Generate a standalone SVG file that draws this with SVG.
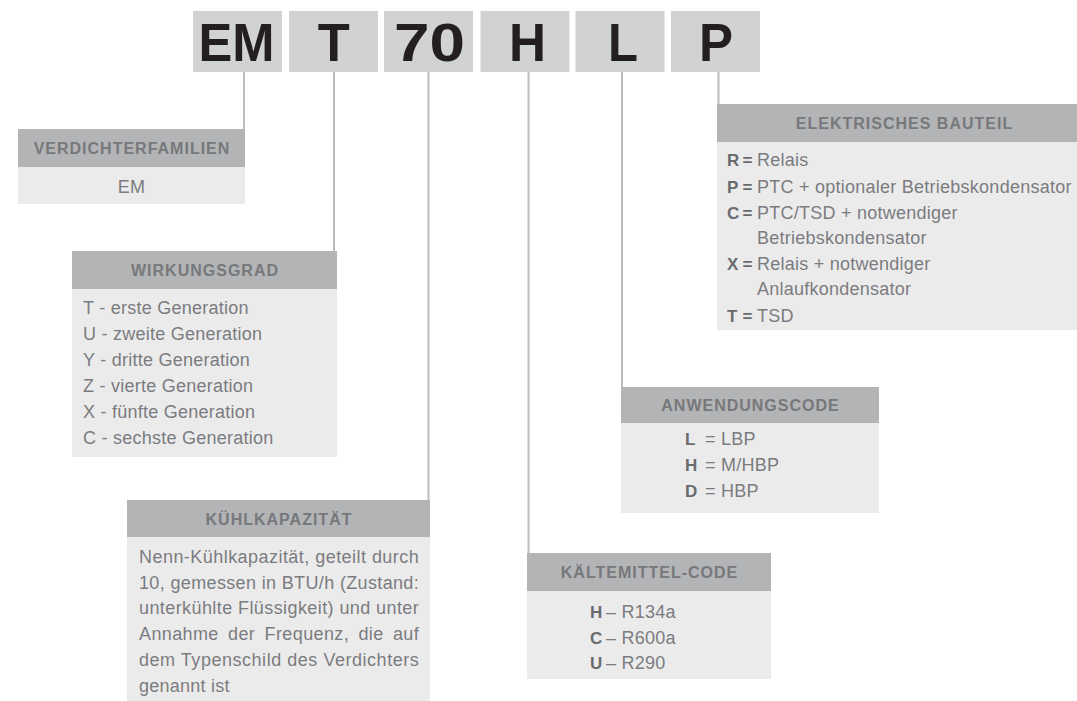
<svg xmlns="http://www.w3.org/2000/svg" width="1077" height="701" viewBox="0 0 1077 701">
  <style>
    .code { fill: #d1d2d4; }
    .letter { font-family: "Liberation Sans", Arial, sans-serif; font-weight: bold; font-size: 53px; fill: #231f20; }
    .hdr { fill: #b3b4b6; }
    .body { fill: #ebebec; }
    .htxt { font-family: "Liberation Sans", Arial, sans-serif; font-weight: bold; font-size: 16px; letter-spacing: 1px; fill: #77787b; text-anchor: middle; }
    .txt { font-family: "Liberation Sans", Arial, sans-serif; font-size: 18px; letter-spacing: 0.25px; fill: #7b7c7f; }
    .key { font-weight: bold; font-size: 17px; letter-spacing: 0; fill: #6a6b6e; }
    .conn { stroke: #bcbdbf; stroke-width: 2; fill: none; }
  </style>
  <rect width="1077" height="701" fill="#ffffff"/>

  <g id="connectors">
    <line class="conn" x1="244" y1="72" x2="244" y2="129"/>
    <line class="conn" x1="334" y1="72" x2="334" y2="251"/>
    <line class="conn" x1="428.5" y1="72" x2="428.5" y2="500"/>
    <line class="conn" x1="528.5" y1="72" x2="528.5" y2="553"/>
    <line class="conn" x1="622" y1="72" x2="622" y2="387"/>
    <line class="conn" x1="718.5" y1="72" x2="718.5" y2="104"/>
  </g>

  <g id="code-EM">
    <rect class="code" x="193" y="11" width="89" height="61"/>
    <text class="letter" x="198.5" y="61" textLength="76" lengthAdjust="spacingAndGlyphs">EM</text>
  </g>
  <g id="code-T">
    <rect class="code" x="289" y="11" width="89" height="61"/>
    <text class="letter" x="317.8" y="61" textLength="32" lengthAdjust="spacingAndGlyphs">T</text>
  </g>
  <g id="code-70">
    <rect class="code" x="384" y="11" width="89" height="61"/>
    <text class="letter" x="394" y="61" textLength="71" lengthAdjust="spacingAndGlyphs">70</text>
  </g>
  <g id="code-H">
    <rect class="code" x="480.5" y="11" width="89" height="61"/>
    <text class="letter" x="509" y="61" textLength="37" lengthAdjust="spacingAndGlyphs">H</text>
  </g>
  <g id="code-L">
    <rect class="code" x="575.5" y="11" width="89" height="61"/>
    <text class="letter" x="608" y="61" textLength="30" lengthAdjust="spacingAndGlyphs">L</text>
  </g>
  <g id="code-P">
    <rect class="code" x="671" y="11" width="89" height="61"/>
    <text class="letter" x="699" y="61" textLength="34" lengthAdjust="spacingAndGlyphs">P</text>
  </g>

  <g id="verdichterfamilien">
    <rect class="hdr" x="18" y="129" width="227" height="38"/>
    <rect class="body" x="18" y="167" width="227" height="37"/>
    <text class="htxt" x="132" y="154">VERDICHTERFAMILIEN</text>
    <text class="txt" x="131.5" y="193" text-anchor="middle">EM</text>
  </g>

  <g id="wirkungsgrad">
    <rect class="hdr" x="72" y="251" width="265" height="38"/>
    <rect class="body" x="72" y="289" width="265" height="168"/>
    <text class="htxt" x="205" y="276">WIRKUNGSGRAD</text>
    <text class="txt" x="83" y="314">T - erste Generation</text>
    <text class="txt" x="83" y="340">U - zweite Generation</text>
    <text class="txt" x="83" y="366">Y - dritte Generation</text>
    <text class="txt" x="83" y="392">Z - vierte Generation</text>
    <text class="txt" x="83" y="418">X - fünfte Generation</text>
    <text class="txt" x="83" y="444">C - sechste Generation</text>
  </g>

  <g id="kuehlkapazitaet">
    <rect class="hdr" x="127" y="500" width="303" height="37"/>
    <rect class="body" x="127" y="537" width="303" height="164"/>
    <text class="htxt" x="279" y="525">KÜHLKAPAZITÄT</text>
    <text class="txt" x="139" y="563" textLength="280" lengthAdjust="spacing">Nenn-Kühlkapazität, geteilt durch</text>
    <text class="txt" x="139" y="588.5" textLength="280" lengthAdjust="spacing">10, gemessen in BTU/h (Zustand:</text>
    <text class="txt" x="139" y="614" textLength="280" lengthAdjust="spacing">unterkühlte Flüssigkeit) und unter</text>
    <text class="txt" x="139" y="640" word-spacing="4" textLength="280" lengthAdjust="spacing">Annahme der Frequenz, die auf</text>
    <text class="txt" x="139" y="666" textLength="280" lengthAdjust="spacing">dem Typenschild des Verdichters</text>
    <text class="txt" x="139" y="692">genannt ist</text>
  </g>

  <g id="kaeltemittel-code">
    <rect class="hdr" x="527" y="553" width="244" height="38"/>
    <rect class="body" x="527" y="591" width="244" height="88"/>
    <text class="htxt" x="649.5" y="578">KÄLTEMITTEL-CODE</text>
    <text class="txt" y="618"><tspan class="key" x="590">H</tspan><tspan x="606">– R134a</tspan></text>
    <text class="txt" y="643.5"><tspan class="key" x="590">C</tspan><tspan x="606">– R600a</tspan></text>
    <text class="txt" y="669"><tspan class="key" x="590">U</tspan><tspan x="606">– R290</tspan></text>
  </g>

  <g id="anwendungscode">
    <rect class="hdr" x="621" y="387" width="258" height="36"/>
    <rect class="body" x="621" y="423" width="258" height="90"/>
    <text class="htxt" x="750.5" y="411">ANWENDUNGSCODE</text>
    <text class="txt" y="445"><tspan class="key" x="685">L</tspan><tspan x="705">= LBP</tspan></text>
    <text class="txt" y="471"><tspan class="key" x="685">H</tspan><tspan x="705">= M/HBP</tspan></text>
    <text class="txt" y="497"><tspan class="key" x="685">D</tspan><tspan x="705">= HBP</tspan></text>
  </g>

  <g id="elektrisches-bauteil">
    <rect class="hdr" x="717" y="104" width="374" height="38"/>
    <rect class="body" x="717" y="142" width="374" height="188"/>
    <text class="htxt" x="904.5" y="129">ELEKTRISCHES BAUTEIL</text>
    <text class="txt" y="166"><tspan class="key" x="727">R</tspan><tspan class="key" x="742.5">=</tspan><tspan x="757">Relais</tspan></text>
    <text class="txt" y="192.5"><tspan class="key" x="727">P</tspan><tspan class="key" x="742.5">=</tspan><tspan x="757">PTC + optionaler Betriebskondensator</tspan></text>
    <text class="txt" y="219"><tspan class="key" x="727">C</tspan><tspan class="key" x="742.5">=</tspan><tspan x="757">PTC/TSD + notwendiger</tspan></text>
    <text class="txt" x="757" y="243.5">Betriebskondensator</text>
    <text class="txt" y="270"><tspan class="key" x="727">X</tspan><tspan class="key" x="742.5">=</tspan><tspan x="757">Relais + notwendiger</tspan></text>
    <text class="txt" x="757" y="294.5">Anlaufkondensator</text>
    <text class="txt" y="322"><tspan class="key" x="727">T</tspan><tspan class="key" x="742.5">=</tspan><tspan x="757">TSD</tspan></text>
  </g>
</svg>
